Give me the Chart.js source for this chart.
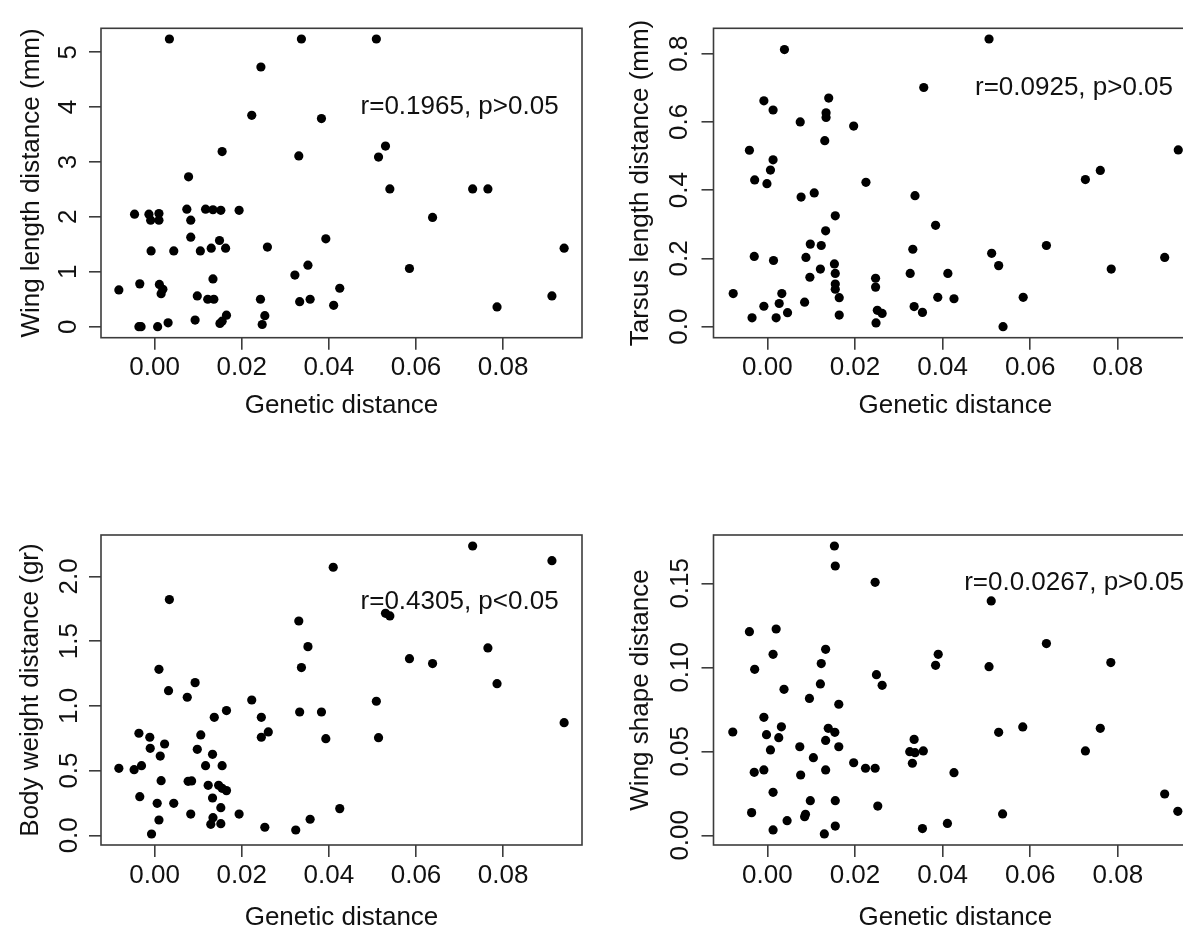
<!DOCTYPE html>
<html>
<head>
<meta charset="utf-8">
<title>Morphological vs genetic distance</title>
<script src="https://cdn.jsdelivr.net/npm/chart.js@4.4.1/dist/chart.umd.min.js"></script>
<style>
  html, body { margin: 0; padding: 0; background: #fff; overflow: hidden; }
  body { width: 1183px; height: 932px; position: relative; }
  .panel { position: absolute; }
  .panel canvas { display: block; }
</style>
</head>
<body>
<div class="panel" style="left:0;top:0"><canvas id="wingLength" width="591" height="466"></canvas></div>
<div class="panel" style="left:591px;top:0"><canvas id="tarsusLength" width="625" height="466"></canvas></div>
<div class="panel" style="left:0;top:466px"><canvas id="bodyWeight" width="591" height="466"></canvas></div>
<div class="panel" style="left:591px;top:466px"><canvas id="wingShape" width="625" height="466"></canvas></div>
<script>
/* ---------- data: pairwise distances between populations ---------- */
const gdTicks = [0, 0.02, 0.04, 0.06, 0.08];
const gdRange = [-0.0123, 0.0981];

// wing length (mm)
const wingLenGd = [0.0034, 0.0337, 0.0509, 0.0244, 0.0223, 0.0383, 0.0155, 0.0331, 0.0530, 0.0514,
  0.0078, 0.0540, 0.0730, 0.0765, -0.0046, -0.0013, 0.0010, -0.0009, 0.0010, 0.0074,
  0.0083, 0.0117, 0.0134, 0.0152, 0.0194, 0.0638, 0.0083, 0.0393, -0.0008, 0.0044,
  0.0105, 0.0130, 0.0149, 0.0163, 0.0259, 0.0940, 0.0352, 0.0585, 0.0322, 0.0134,
  -0.0082, -0.0034, 0.0011, 0.0019, 0.0015, 0.0425, 0.0098, 0.0122, 0.0136, 0.0243,
  0.0357, 0.0333, 0.0912, 0.0411, 0.0786, -0.0036, -0.0031, 0.0007, 0.0031, 0.0093,
  0.0150, 0.0155, 0.0165, 0.0253, 0.0247];
const wingLenMm = [5.24, 5.24, 5.24, 4.73, 3.85, 3.79, 3.19, 3.11, 3.29, 3.09,
  2.73, 2.51, 2.51, 2.51, 2.05, 2.05, 2.06, 1.94, 1.94, 2.14,
  1.94, 2.14, 2.13, 2.12, 2.12, 1.99, 1.63, 1.60, 1.38, 1.38,
  1.38, 1.43, 1.57, 1.43, 1.45, 1.43, 1.12, 1.06, 0.94, 0.87,
  0.67, 0.78, 0.77, 0.68, 0.60, 0.70, 0.56, 0.50, 0.50, 0.50,
  0.50, 0.455, 0.56, 0.39, 0.36, 0.00, 0.00, 0.00, 0.07, 0.12,
  0.06, 0.10, 0.21, 0.20, 0.04];
const wingLenTicks = [0, 1, 2, 3, 4, 5];

// tarsus length (mm)
const tarsusGd = [0.0039, 0.0506, 0.0357, -0.0008, 0.0013, 0.0075, 0.0140, 0.0134, 0.0134, 0.0131,
  0.0197, -0.0041, 0.0013, 0.0007, -0.0029, -0.0001, 0.0077, 0.0107, 0.0225, 0.0337,
  0.0938, 0.0760, 0.0726, 0.0155, 0.0133, 0.0384, 0.0098, 0.0123, -0.0030, 0.0014,
  0.0088, 0.0332, 0.0637, 0.0512, 0.0907, 0.0153, 0.0121, 0.0528, 0.0785, 0.0097,
  0.0155, 0.0326, 0.0412, 0.0247, 0.0247, 0.0155, 0.0155, 0.0164, -0.0078, 0.0033,
  -0.0008, 0.0027, 0.0085, 0.0389, 0.0426, 0.0584, -0.0035, 0.0020, 0.0046, 0.0164,
  0.0251, 0.0262, 0.0248, 0.0335, 0.0354, 0.0538];
const tarsusMm = [0.812, 0.843, 0.701, 0.662, 0.635, 0.600, 0.670, 0.627, 0.613, 0.545,
  0.588, 0.517, 0.489, 0.459, 0.430, 0.419, 0.380, 0.392, 0.423, 0.384,
  0.518, 0.458, 0.431, 0.325, 0.281, 0.297, 0.242, 0.238, 0.206, 0.194,
  0.203, 0.227, 0.238, 0.215, 0.203, 0.184, 0.169, 0.179, 0.169, 0.145,
  0.156, 0.156, 0.156, 0.142, 0.116, 0.125, 0.110, 0.085, 0.097, 0.097,
  0.060, 0.068, 0.072, 0.086, 0.082, 0.086, 0.026, 0.026, 0.041, 0.034,
  0.048, 0.039, 0.011, 0.059, 0.042, 0.000];
const tarsusTicks = [0, 0.2, 0.4, 0.6, 0.8];

// body weight (gr)
const weightGd = [0.0410, 0.0034, 0.0331, 0.0352, 0.0337, 0.0010, 0.0093, 0.0032, 0.0075, 0.0223,
  0.0333, 0.0383, 0.0165, 0.0137, 0.0245, 0.0393, 0.0245, 0.0261, -0.0036, -0.0011,
  0.0023, -0.0010, 0.0106, 0.0098, 0.0013, 0.0133, -0.0082, -0.0047, -0.0030, 0.0117,
  0.0155, 0.0015, 0.0077, 0.0085, 0.0123, 0.0147, 0.0155, 0.0165, -0.0034, 0.0133,
  0.0006, 0.0044, 0.0152, 0.0083, 0.0194, 0.0134, 0.0129, 0.0152, 0.0010, -0.0007,
  0.0253, 0.0324, 0.0357, 0.0425, 0.0730, 0.0912, 0.0530, 0.0540, 0.0765, 0.0585,
  0.0638, 0.0786, 0.0509, 0.0940, 0.0514];
const weightGr = [2.07, 1.82, 1.655, 1.457, 1.295, 1.282, 1.179, 1.117, 1.066, 1.045,
  0.952, 0.952, 0.963, 0.911, 0.911, 0.746, 0.757, 0.798, 0.788, 0.757,
  0.705, 0.672, 0.775, 0.664, 0.612, 0.625, 0.517, 0.507, 0.538, 0.538,
  0.538, 0.422, 0.417, 0.420, 0.386, 0.386, 0.363, 0.345, 0.298, 0.288,
  0.247, 0.247, 0.213, 0.164, 0.164, 0.136, 0.085, 0.090, 0.118, 0.010,
  0.062, 0.041, 0.124, 0.206, 2.234, 2.121, 1.714, 1.694, 1.447, 1.364,
  1.326, 1.171, 1.035, 0.870, 0.754];
const weightTicks = [0, 0.5, 1, 1.5, 2];

// wing shape
const shapeGd = [0.0153, 0.0155, 0.0246, -0.0041, 0.0020, 0.0133, 0.0013, 0.0123, -0.0029, 0.0384,
  0.0390, 0.0249, 0.0262, 0.0121, 0.0038, 0.0096, 0.0163, -0.0008, 0.0032, -0.0079,
  -0.0002, 0.0026, 0.0139, 0.0154, 0.0133, 0.0007, 0.0074, 0.0163, 0.0335, 0.0325,
  0.0337, 0.0356, 0.0105, 0.0197, 0.0331, 0.0224, 0.0246, -0.0030, -0.0008, 0.0133,
  0.0076, 0.0013, 0.0098, 0.0155, 0.0252, -0.0036, 0.0085, 0.0087, 0.0045, 0.0013,
  0.0155, 0.0130, 0.0354, 0.0511, 0.0637, 0.0784, 0.0506, 0.0583, 0.0760, 0.0528,
  0.0726, 0.0426, 0.0411, 0.0537, 0.0907, 0.0937];
const shapeDist = [0.1722, 0.1603, 0.1506, 0.1212, 0.1228, 0.1107, 0.1077, 0.1022, 0.0988, 0.1012,
  0.1077, 0.0956, 0.0893, 0.0901, 0.0869, 0.0815, 0.0780, 0.0702, 0.0646, 0.0615,
  0.0599, 0.0581, 0.0637, 0.0613, 0.0565, 0.0508, 0.0527, 0.0527, 0.0571, 0.0498,
  0.0492, 0.0502, 0.0462, 0.0432, 0.0429, 0.0399, 0.0399, 0.0375, 0.0389, 0.0389,
  0.0359, 0.0256, 0.0206, 0.0206, 0.0174, 0.0135, 0.0111, 0.0125, 0.0087, 0.0032,
  0.0055, 0.0008, 0.0040, 0.1395, 0.1141, 0.1028, 0.1004, 0.0645, 0.0637, 0.0613,
  0.0502, 0.0373, 0.0071, 0.0127, 0.0246, 0.0143];
const shapeTicks = [0, 0.05, 0.10, 0.15];

// correlation notes
const noteX = 0.07;
const noteText = ['r=0.1965, p>0.05', 'r=0.0925, p>0.05', 'r=0.4305, p<0.05', 'r=0.0.0267, p>0.05'];
const noteY = [4, 0.7, 1.8, 0.15];

/* ---------- drawing ---------- */
const FONT = "'Liberation Sans', Arial, Helvetica, sans-serif";
const INK = '#111';
const FRAME = '#3c3c3c';

// box around the plotting region
const framePlugin = {
  id: 'frame',
  afterDatasetsDraw(chart) {
    const { ctx, chartArea: a } = chart;
    ctx.save();
    ctx.strokeStyle = FRAME;
    ctx.lineWidth = 1.6;
    ctx.strokeRect(a.left, a.top, a.right - a.left, a.bottom - a.top);
    ctx.restore();
  }
};

// r / p text placed in data coordinates
const notePlugin = {
  id: 'note',
  afterDatasetsDraw(chart, args, opts) {
    if (!opts.text) return;
    const { ctx, scales } = chart;
    ctx.save();
    ctx.font = '26px ' + FONT;
    ctx.fillStyle = INK;
    ctx.textAlign = 'center';
    ctx.textBaseline = 'middle';
    ctx.fillText(opts.text, scales.x.getPixelForValue(opts.x), scales.y.getPixelForValue(opts.y));
    ctx.restore();
  }
};

function scatterPanel(id, xs, ys, p) {
  const font = { family: FONT, size: 26, lineHeight: 1 };
  return new Chart(document.getElementById(id), {
    type: 'scatter',
    data: {
      datasets: [{
        data: xs.map((x, i) => ({ x: x, y: ys[i] })),
        backgroundColor: '#000',
        borderWidth: 0,
        pointRadius: 4.6,
        pointHoverRadius: 4.6
      }]
    },
    options: {
      responsive: false,
      animation: false,
      events: [],
      layout: { padding: p.pad },
      plugins: {
        legend: { display: false },
        tooltip: { enabled: false },
        note: { text: p.note, x: noteX, y: p.noteY }
      },
      scales: {
        x: {
          type: 'linear',
          min: gdRange[0],
          max: gdRange[1],
          afterBuildTicks: ax => { ax.ticks = gdTicks.map(v => ({ value: v })); },
          afterFit: ax => { ax.height = p.xAxisH; },
          grid: { drawOnChartArea: false, tickLength: 12, color: FRAME, lineWidth: 1.6 },
          border: { display: false },
          ticks: {
            autoSkip: false, maxRotation: 0, padding: p.xTickPad,
            color: INK, font: font,
            callback: v => v.toFixed(2)
          },
          title: {
            display: true, text: 'Genetic distance', color: INK, font: font,
            padding: { top: 0, bottom: p.xTitlePad }
          }
        },
        y: {
          type: 'linear',
          min: p.yRange[0],
          max: p.yRange[1],
          afterBuildTicks: ax => { ax.ticks = p.yTicks.map(v => ({ value: v })); },
          afterFit: ax => { ax.width = p.yAxisW; },
          grid: { drawOnChartArea: false, tickLength: 12, color: FRAME, lineWidth: 1.6 },
          border: { display: false },
          ticks: {
            autoSkip: false, minRotation: 90, maxRotation: 90, crossAlign: 'center',
            padding: p.yTickPad, color: INK, font: font,
            callback: v => v.toFixed(p.yDigits)
          },
          title: {
            display: true, text: p.yTitle, color: INK, font: font,
            padding: { top: p.yTitlePad, bottom: 0 }
          }
        }
      }
    },
    plugins: [framePlugin, notePlugin]
  });
}

scatterPanel('wingLength', wingLenGd, wingLenMm, {
  yTitle: 'Wing length distance (mm)', yTicks: wingLenTicks, yRange: [-0.2004, 5.435], yDigits: 0,
  note: noteText[0], noteY: noteY[0],
  pad: { left: 0, top: 28.3, right: 9, bottom: 28.3 },
  yAxisW: 101, xAxisH: 100, xTickPad: 5, xTitlePad: 19, yTickPad: 12.5, yTitlePad: 18.7
});

scatterPanel('tarsusLength', tarsusGd, tarsusMm, {
  yTitle: 'Tarsus length distance (mm)', yTicks: tarsusTicks, yRange: [-0.0322, 0.8744], yDigits: 1,
  note: noteText[1], noteY: noteY[1],
  pad: { left: 0, top: 28.3, right: 18.9, bottom: 28.3 },
  yAxisW: 122.5, xAxisH: 100, xTickPad: 5, xTitlePad: 19, yTickPad: 3.2, yTitlePad: 37
});

scatterPanel('bodyWeight', weightGd, weightGr, {
  yTitle: 'Body weight distance (gr)', yTicks: weightTicks, yRange: [-0.0749, 2.319], yDigits: 1,
  note: noteText[2], noteY: noteY[2],
  pad: { left: 0, top: 69, right: 9, bottom: 0 },
  yAxisW: 101, xAxisH: 87, xTickPad: 6, xTitlePad: 1.3, yTickPad: 0.7, yTitlePad: 18
});

scatterPanel('wingShape', shapeGd, shapeDist, {
  yTitle: 'Wing shape distance', yTicks: shapeTicks, yRange: [-0.00577, 0.17875], yDigits: 2,
  note: noteText[3], noteY: noteY[3],
  pad: { left: 0, top: 69, right: 18.9, bottom: 0 },
  yAxisW: 122.5, xAxisH: 87, xTickPad: 6, xTitlePad: 1.3, yTickPad: -4.7, yTitlePad: 37
});
</script>
</body>
</html>
